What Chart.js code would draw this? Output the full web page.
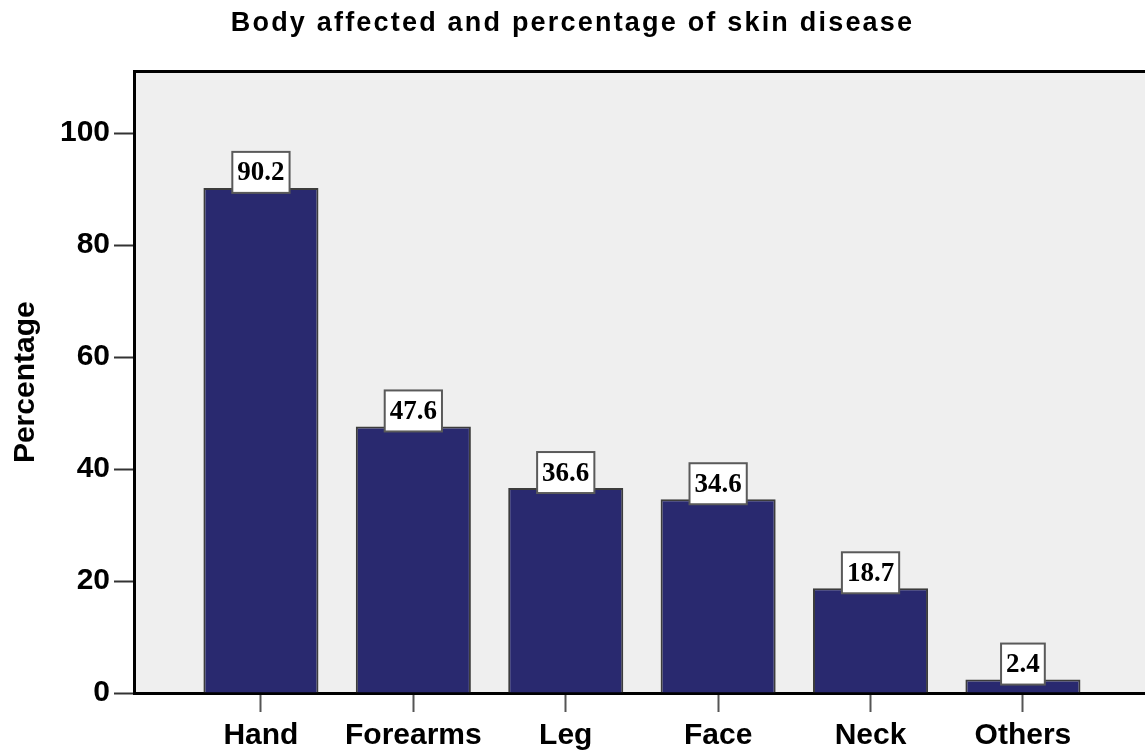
<!DOCTYPE html>
<html>
<head>
<meta charset="utf-8">
<script src="https://cdn.jsdelivr.net/npm/chart.js@4/dist/chart.umd.min.js"></script>
<style>
  html, body { margin: 0; padding: 0; background: #ffffff; }
  #wrap { width: 1145px; height: 751px; }
</style>
</head>
<body>
<div id="wrap"><canvas id="c" width="1145" height="751"></canvas></div>
<script>
// ---- data ----
const chartTitle = 'Body affected and percentage of skin disease';
const yAxisTitle = 'Percentage';
const categories = ['Hand', 'Forearms', 'Leg', 'Face', 'Neck', 'Others'];
const percentages = [90.2, 47.6, 36.6, 34.6, 18.7, 2.4];
const yTickValues = [0, 20, 40, 60, 80, 100];

// ---- styles ----
const BAR_COLOR = '#29296f';
const BAR_EDGE = '#3c3c3c';
const PLOT_BG = '#efefef';
const SANS = '"Liberation Sans", Arial, sans-serif';
const SERIF = '"Liberation Serif", "Times New Roman", serif';

const points = categories.map((c, i) => ({ x: i, y: percentages[i] }));

const plotBackground = {
  id: 'plotBackground',
  beforeDraw(chart) {
    const { ctx, chartArea: a } = chart;
    ctx.save();
    ctx.fillStyle = PLOT_BG;
    ctx.fillRect(a.left, a.top, a.right - a.left, a.bottom - a.top);
    ctx.restore();
    // widen title letter spacing
    const tb = chart.titleBlock;
    if (tb && !tb._spaced) {
      const orig = tb.draw;
      tb.draw = function () {
        const c = this.ctx;
        c.save();
        c.letterSpacing = '2.2px';
        orig.apply(this, arguments);
        c.restore();
      };
      tb._spaced = true;
    }
  }
};

const valueBoxes = {
  id: 'valueBoxes',
  afterDatasetsDraw(chart) {
    const { ctx } = chart;
    const meta = chart.getDatasetMeta(0);
    ctx.save();
    ctx.font = 'bold 27px ' + SERIF;
    ctx.textAlign = 'center';
    ctx.textBaseline = 'middle';
    meta.data.forEach((bar, i) => {
      const txt = percentages[i].toFixed(1);
      const w = ctx.measureText(txt).width + 10;
      const h = 41;
      const cx = bar.x;
      const bottom = bar.y + 5;
      const top = bottom - h;
      ctx.fillStyle = '#ffffff';
      ctx.fillRect(cx - w / 2, top, w, h);
      ctx.strokeStyle = '#5a5a5a';
      ctx.lineWidth = 2;
      ctx.strokeRect(cx - w / 2, top, w, h);
      ctx.fillStyle = '#000000';
      ctx.fillText(txt, cx, top + h / 2 + 1);
    });
    ctx.restore();
  }
};

new Chart(document.getElementById('c'), {
  type: 'bar',
  data: {
    datasets: [{
      data: points,
      backgroundColor: BAR_COLOR,
      borderColor: BAR_EDGE,
      borderWidth: 2,
      borderSkipped: 'start',
      barPercentage: 0.755,
      categoryPercentage: 1.0
    }]
  },
  options: {
    responsive: false,
    animation: false,
    layout: { padding: 0 },
    plugins: {
      legend: { display: false },
      tooltip: { enabled: false },
      title: {
        display: true,
        text: chartTitle,
        color: '#000',
        font: { family: SANS, size: 27, weight: 'bold', lineHeight: 1.2 },
        padding: { top: 7, bottom: 32 }
      }
    },
    scales: {
      x: {
        type: 'linear',
        position: 'bottom',
        offset: false,
        min: -0.833,
        max: 5.801,
        afterFit(s) { s.height = 58; },
        ticks: {
          stepSize: 1,
          includeBounds: false,
          autoSkip: false,
          maxRotation: 0,
          padding: 6,
          color: '#000',
          font: { family: SANS, size: 30, weight: 'bold' },
          callback: (v) => (Number.isInteger(v) && categories[v] !== undefined) ? categories[v] : ''
        },
        grid: {
          display: true,
          offset: false,
          drawOnChartArea: false,
          drawTicks: true,
          tickLength: 19,
          tickColor: '#555',
          tickWidth: 2
        },
        border: { display: true, color: '#000', width: 3 }
      },
      xTop: {
        type: 'linear',
        position: 'top',
        offset: false,
        min: -0.833,
        max: 5.801,
        afterFit(s) { s.height = 0; },
        ticks: { display: false },
        grid: { display: false, drawTicks: false },
        border: { display: true, color: '#000', width: 3 }
      },
      y: {
        min: 0,
        max: 111,
        afterFit(s) { s.width = 134; },
        afterBuildTicks(s) { s.ticks = yTickValues.map(v => ({ value: v })); },
        ticks: {
          stepSize: 20,
          includeBounds: false,
          padding: 4,
          color: '#000',
          font: { family: SANS, size: 30, weight: 'bold' }
        },
        grid: {
          display: true,
          drawOnChartArea: false,
          drawTicks: true,
          tickLength: 20,
          tickColor: '#333',
          tickWidth: 2
        },
        border: { display: true, color: '#000', width: 3 },
        title: {
          display: true,
          text: yAxisTitle,
          color: '#000',
          font: { family: SANS, size: 30, weight: 'bold', lineHeight: 1.2 },
          padding: { top: 8, bottom: 0 }
        }
      }
    }
  },
  plugins: [plotBackground, valueBoxes]
});
</script>
</body>
</html>
